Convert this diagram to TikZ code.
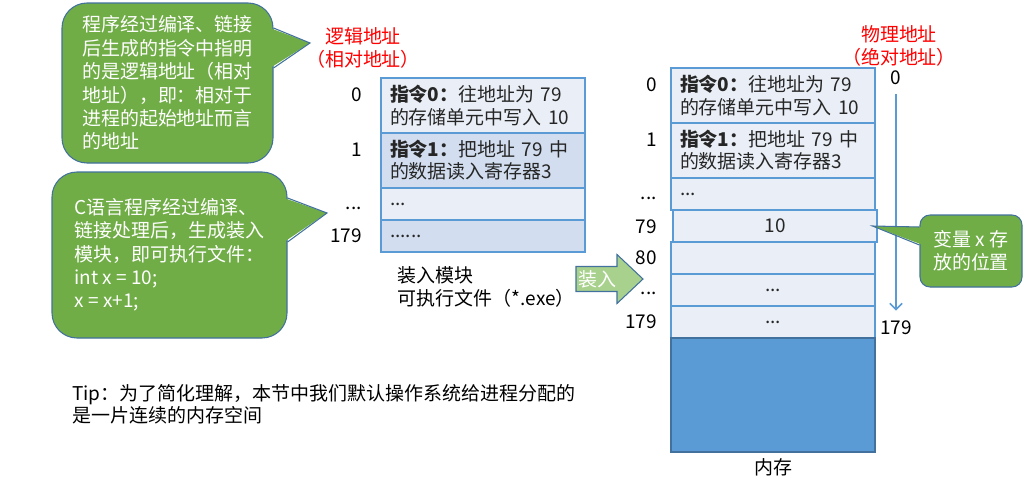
\documentclass[tikz,border=0pt]{standalone}
\usepackage{fontspec}
\setmainfont{Noto Sans CJK SC}
\usepackage{tikz}
\usetikzlibrary{arrows.meta}
\definecolor{callgreen}{HTML}{70AD47}
\definecolor{edgeblue}{HTML}{41719C}
\definecolor{loadgreen}{HTML}{A9D18E}
\definecolor{rowlight}{HTML}{EAEFF7}
\definecolor{rowdark}{HTML}{D2DEEF}
\definecolor{rowline}{HTML}{5B9BD5}
\definecolor{memblue}{HTML}{5B9BD5}

\begin{document}
\begin{tikzpicture}[>={Straight Barb[length=3.5pt,width=7pt]},line width=.6pt,
every node/.style={font=\fontsize{10.8}{13.3}\selectfont},
bubble/.style={draw=edgeblue,fill=callgreen,rounded corners=.5cm,text=white,align=left},
cell/.style={draw=rowline,fill=rowlight,text width=3.72cm,inner xsep=.18cm,align=left,text=black!85,font=\fontsize{10.8}{12.6}\selectfont},
tall/.style={cell,minimum height=1.1cm},
short/.style={cell,minimum height=.64cm},
addr/.style={anchor=east},
redlabel/.style={text=red,align=center,font=\fontsize{10.8}{12.6}\selectfont}]
\useasboundingbox (0,0) rectangle (20.58,9.6);

% speech bubbles on the left
\node[bubble,minimum width=4.22cm,minimum height=3.2cm] (c1) at (3.35,7.94) {程序经过编译、链接\\后生成的指令中指明\\的是逻辑地址（相对\\地址），即：相对于\\进程的起始地址而言\\的地址};
\coordinate (t1) at (6.2,8.74);
\fill[callgreen] ([xshift=-2pt,yshift=1.1cm]c1.east) -- (t1) -- ([xshift=-2pt,yshift=.3cm]c1.east) -- cycle;
\draw[edgeblue] ([yshift=1.1cm]c1.east) -- (t1) -- ([yshift=.3cm]c1.east);
\node[bubble,minimum width=4.7cm,minimum height=3.32cm] (c2) at (3.39,4.5) {C语言程序经过编译、\\链接处理后，生成装入\\模块，即可执行文件：\\int x = 10;\\x = x+1;};
\coordinate (t2) at (6.54,5.34);
\fill[callgreen] ([xshift=-2pt,yshift=1.14cm]c2.east) -- (t2) -- ([xshift=-2pt,yshift=.26cm]c2.east) -- cycle;
\draw[edgeblue] ([yshift=1.14cm]c2.east) -- (t2) -- ([yshift=.26cm]c2.east);

% load module (logical addresses)
\node[redlabel] (logic) at (7.26,8.64) {逻辑地址\\（相对地址）};
\node[tall] (l0) at (9.66,7.49) {\textbf{指令0：}往地址为 79\\的存储单元中写入 10};
\node[tall,fill=rowdark] (l1) at (9.66,6.39) {\textbf{指令1：}把地址 79 中\\的数据读入寄存器3};
\node[short] (l2) at (9.66,5.52) {...};
\node[short,fill=rowdark] (l3) at (9.66,4.88) {......};
\node[addr] (la0) at (7.36,7.7) {0};
\node[addr] (la1) at (7.36,6.6) {1};
\node[addr] (ladots) at (7.36,5.44) {...};
\node[addr] (la179) at (7.36,4.88) {179};
\node[anchor=west,align=left,font=\fontsize{10.8}{12.6}\selectfont] (exe) at (7.83,3.86) {装入模块\\可执行文件（*.exe）};

% load arrow
\filldraw[fill=loadgreen,draw=edgeblue] (11.52,4.27) -- (12.34,4.27) -- (12.34,4.51) -- (12.86,4.02) -- (12.34,3.53) -- (12.34,3.77) -- (11.52,3.77) -- cycle;
\node[text=white] (load) at (11.95,4.02) {装入};

% memory (physical addresses)
\node[redlabel] (phys) at (17.98,8.68) {物理地址\\（绝对地址）};
\node[tall] (p0) at (15.46,7.69) {\textbf{指令0：}往地址为 79\\的存储单元中写入 10};
\node[tall] (p1) at (15.46,6.59) {\textbf{指令1：}把地址 79 中\\的数据读入寄存器3};
\node[short] (p2) at (15.46,5.72) {...};
\node[short,align=center] (p3) at (15.5,5.08) {10};
\node[short] (p4) at (15.46,4.44) {};
\node[short,align=center] (p5) at (15.46,3.80) {...};
\node[short,align=center] (p6) at (15.46,3.16) {...};
\node[draw=edgeblue,fill=memblue,minimum width=4.08cm,minimum height=2.28cm] (mem) at (15.46,1.70) {};
\node (memname) at (15.46,.26) {内存};
\node[addr] (pa0) at (13.26,7.9) {0};
\node[addr] (pa1) at (13.26,6.8) {1};
\node[addr] (padots) at (13.26,5.64) {...};
\node[addr] (pa79) at (13.26,5.06) {79};
\node[addr] (pa80) at (13.26,4.44) {80};
\node[addr] (padots2) at (13.26,3.74) {...};
\node[addr] (pa179) at (13.26,3.16) {179};

% physical address axis
\node (ax0) at (17.92,8.04) {0};
\node (ax179) at (17.92,3.04) {179};
\draw[->,rowline,line width=.9pt,shorten <=.06cm,shorten >=.08cm] (ax0) -- (ax179);

% where x lives
\node[bubble,align=center,rounded corners=.2cm,minimum width=2.04cm,minimum height=1.44cm] (c3) at (19.42,4.58) {变量 x 存\\放的位置};
\coordinate (t3) at ([xshift=-.1cm]p3.east);
\fill[callgreen] ([xshift=2pt,yshift=.48cm]c3.west) -- (t3) -- ([xshift=2pt,yshift=.12cm]c3.west) -- cycle;
\draw[edgeblue] ([yshift=.48cm]c3.west) -- (t3) -- ([yshift=.12cm]c3.west);

\node[anchor=west,align=left,font=\fontsize{10.8}{12.6}\selectfont] (note) at (1.32,1.52) {Tip：为了简化理解，本节中我们默认操作系统给进程分配的\\是一片连续的内存空间};
\end{tikzpicture}
\end{document}
